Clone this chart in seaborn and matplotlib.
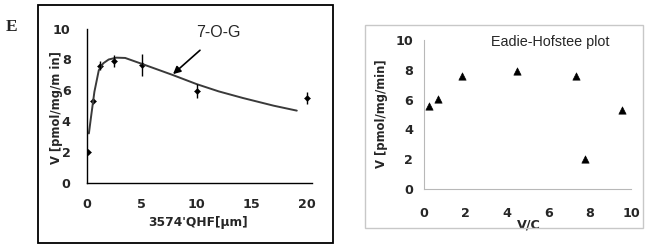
import numpy as np
import pandas as pd
import seaborn as sns
import matplotlib.pyplot as plt
from matplotlib.patches import Rectangle

# data
conc = [0.15, 0.6, 1.25, 2.5, 5, 10, 20]
v_mean = [2.0, 5.3, 7.6, 7.9, 7.65, 5.95, 5.5]
v_err = [0.0, 0.0, 0.3, 0.4, 0.7, 0.45, 0.4]

fit_x = [0.2, 0.4, 0.7, 1.1, 1.5, 2.0, 2.7, 3.5, 5, 7.8, 10, 12, 14.2, 17, 19.1]
fit_v = [3.2, 4.3, 5.9, 7.3, 7.75, 8.0, 8.12, 8.1, 7.72, 7.0, 6.4, 5.93, 5.5, 5.0, 4.68]

eh_x = [0.26, 0.66, 1.85, 4.5, 7.33, 7.78, 9.58]
eh_v = [5.57, 6.04, 7.6, 7.92, 7.6, 2.03, 5.3]

xticks_left = [0, 5, 10, 15, 20]
yticks = [0, 2, 4, 6, 8, 10]
xticks_right = [0, 2, 4, 6, 8, 10]

sns.set_style("white")
plt.rcParams['font.family'] = ['Liberation Sans', 'DejaVu Sans']
BOLD = dict(family="DejaVu Sans", fontweight="bold")
TICKFONT = dict(family="DejaVu Sans", weight="bold", size=9.2)

df_pts = pd.DataFrame({"conc": conc, "v": v_mean})
df_fit = pd.DataFrame({"conc": fit_x, "v": fit_v})
df_eh = pd.DataFrame({"vc": eh_x, "v": eh_v})

fig = plt.figure(figsize=(6.45, 2.48), dpi=100)

# outer frames
fig.patches.append(Rectangle((0.0589, 0.0202), 0.4574, 0.96, transform=fig.transFigure,
                             fill=False, edgecolor="black", lw=1.3))
fig.patches.append(Rectangle((0.5659, 0.0806), 0.431, 0.8185, transform=fig.transFigure,
                             fill=False, edgecolor="#c8c8c8", lw=1.0))
fig.text(0.0178, 0.891, "E", fontsize=12.5, fontweight="bold", family="Liberation Serif",
         ha="center", va="center")

# left panel
ax1 = fig.add_axes([0.1344, 0.2633, 0.3496, 0.621])
sns.lineplot(data=df_fit, x="conc", y="v", ax=ax1, color="#3a3a3a", lw=1.4)
ax1.errorbar(conc, v_mean, yerr=v_err, fmt="none", ecolor="black", elinewidth=1.0)
sns.scatterplot(data=df_pts, x="conc", y="v", ax=ax1, marker="D", s=10,
                color="black", edgecolor="black")
ax1.set_xlim(0, 20.5)
ax1.set_ylim(0, 10)
ax1.set_xticks(xticks_left)
ax1.set_yticks(yticks)
for s in ["top", "right"]:
    ax1.spines[s].set_visible(False)
for s in ["left", "bottom"]:
    ax1.spines[s].set_color("black")
    ax1.spines[s].set_linewidth(1.0)
ax1.tick_params(direction="inout", length=7, width=1, color="black")
ax1.tick_params(axis="x", pad=7.5)
ax1.tick_params(axis="y", pad=8)
for lab in ax1.get_xticklabels() + ax1.get_yticklabels():
    lab.set_fontproperties(TICKFONT)
ax1.set_xlabel("3574'QHF[μm]", fontsize=8.8, **BOLD)
ax1.set_ylabel("V [pmol/mg/m in]", fontsize=8.3, **BOLD)
ax1.xaxis.set_label_coords(0.494, -0.215)
ax1.yaxis.set_label_coords(-0.105, 0.485)
ax1.text(12.0, 9.75, "7-O-G", fontsize=11.5, ha="center", va="center")
ax1.annotate("", xy=(7.85, 7.05), xytext=(10.3, 8.6),
             arrowprops=dict(arrowstyle="-|>", color="black", lw=1.2,
                             shrinkA=0, shrinkB=0, mutation_scale=11))
ax1.patch.set_alpha(0)

# right panel
ax2 = fig.add_axes([0.6574, 0.2379, 0.3209, 0.6008])
sns.scatterplot(data=df_eh, x="vc", y="v", ax=ax2, marker="^", s=28,
                color="black", edgecolor="black")
ax2.set_xlim(0, 10)
ax2.set_ylim(0, 10)
ax2.set_xticks(xticks_right)
ax2.set_yticks(yticks)
for s in ["top", "right"]:
    ax2.spines[s].set_visible(False)
for s in ["left", "bottom"]:
    ax2.spines[s].set_color("#b8b8b8")
    ax2.spines[s].set_linewidth(0.8)
ax2.tick_params(direction="in", length=3, width=0.8, color="#b8b8b8")
ax2.tick_params(axis="x", pad=13)
ax2.tick_params(axis="y", pad=8)
for lab in ax2.get_xticklabels() + ax2.get_yticklabels():
    lab.set_fontproperties(TICKFONT)
ax2.set_xlabel("V/C", fontsize=9.2, **BOLD)
ax2.set_ylabel("V [pmol/mg/min]", fontsize=8.4, **BOLD)
ax2.xaxis.set_label_coords(0.505, -0.2)
ax2.yaxis.set_label_coords(-0.175, 0.505)
ax2.text(6.1, 9.87, "Eadie-Hofstee plot", fontsize=10.4, ha="center", va="center")
ax2.patch.set_alpha(0)

fig.savefig("out.png", dpi=100)
